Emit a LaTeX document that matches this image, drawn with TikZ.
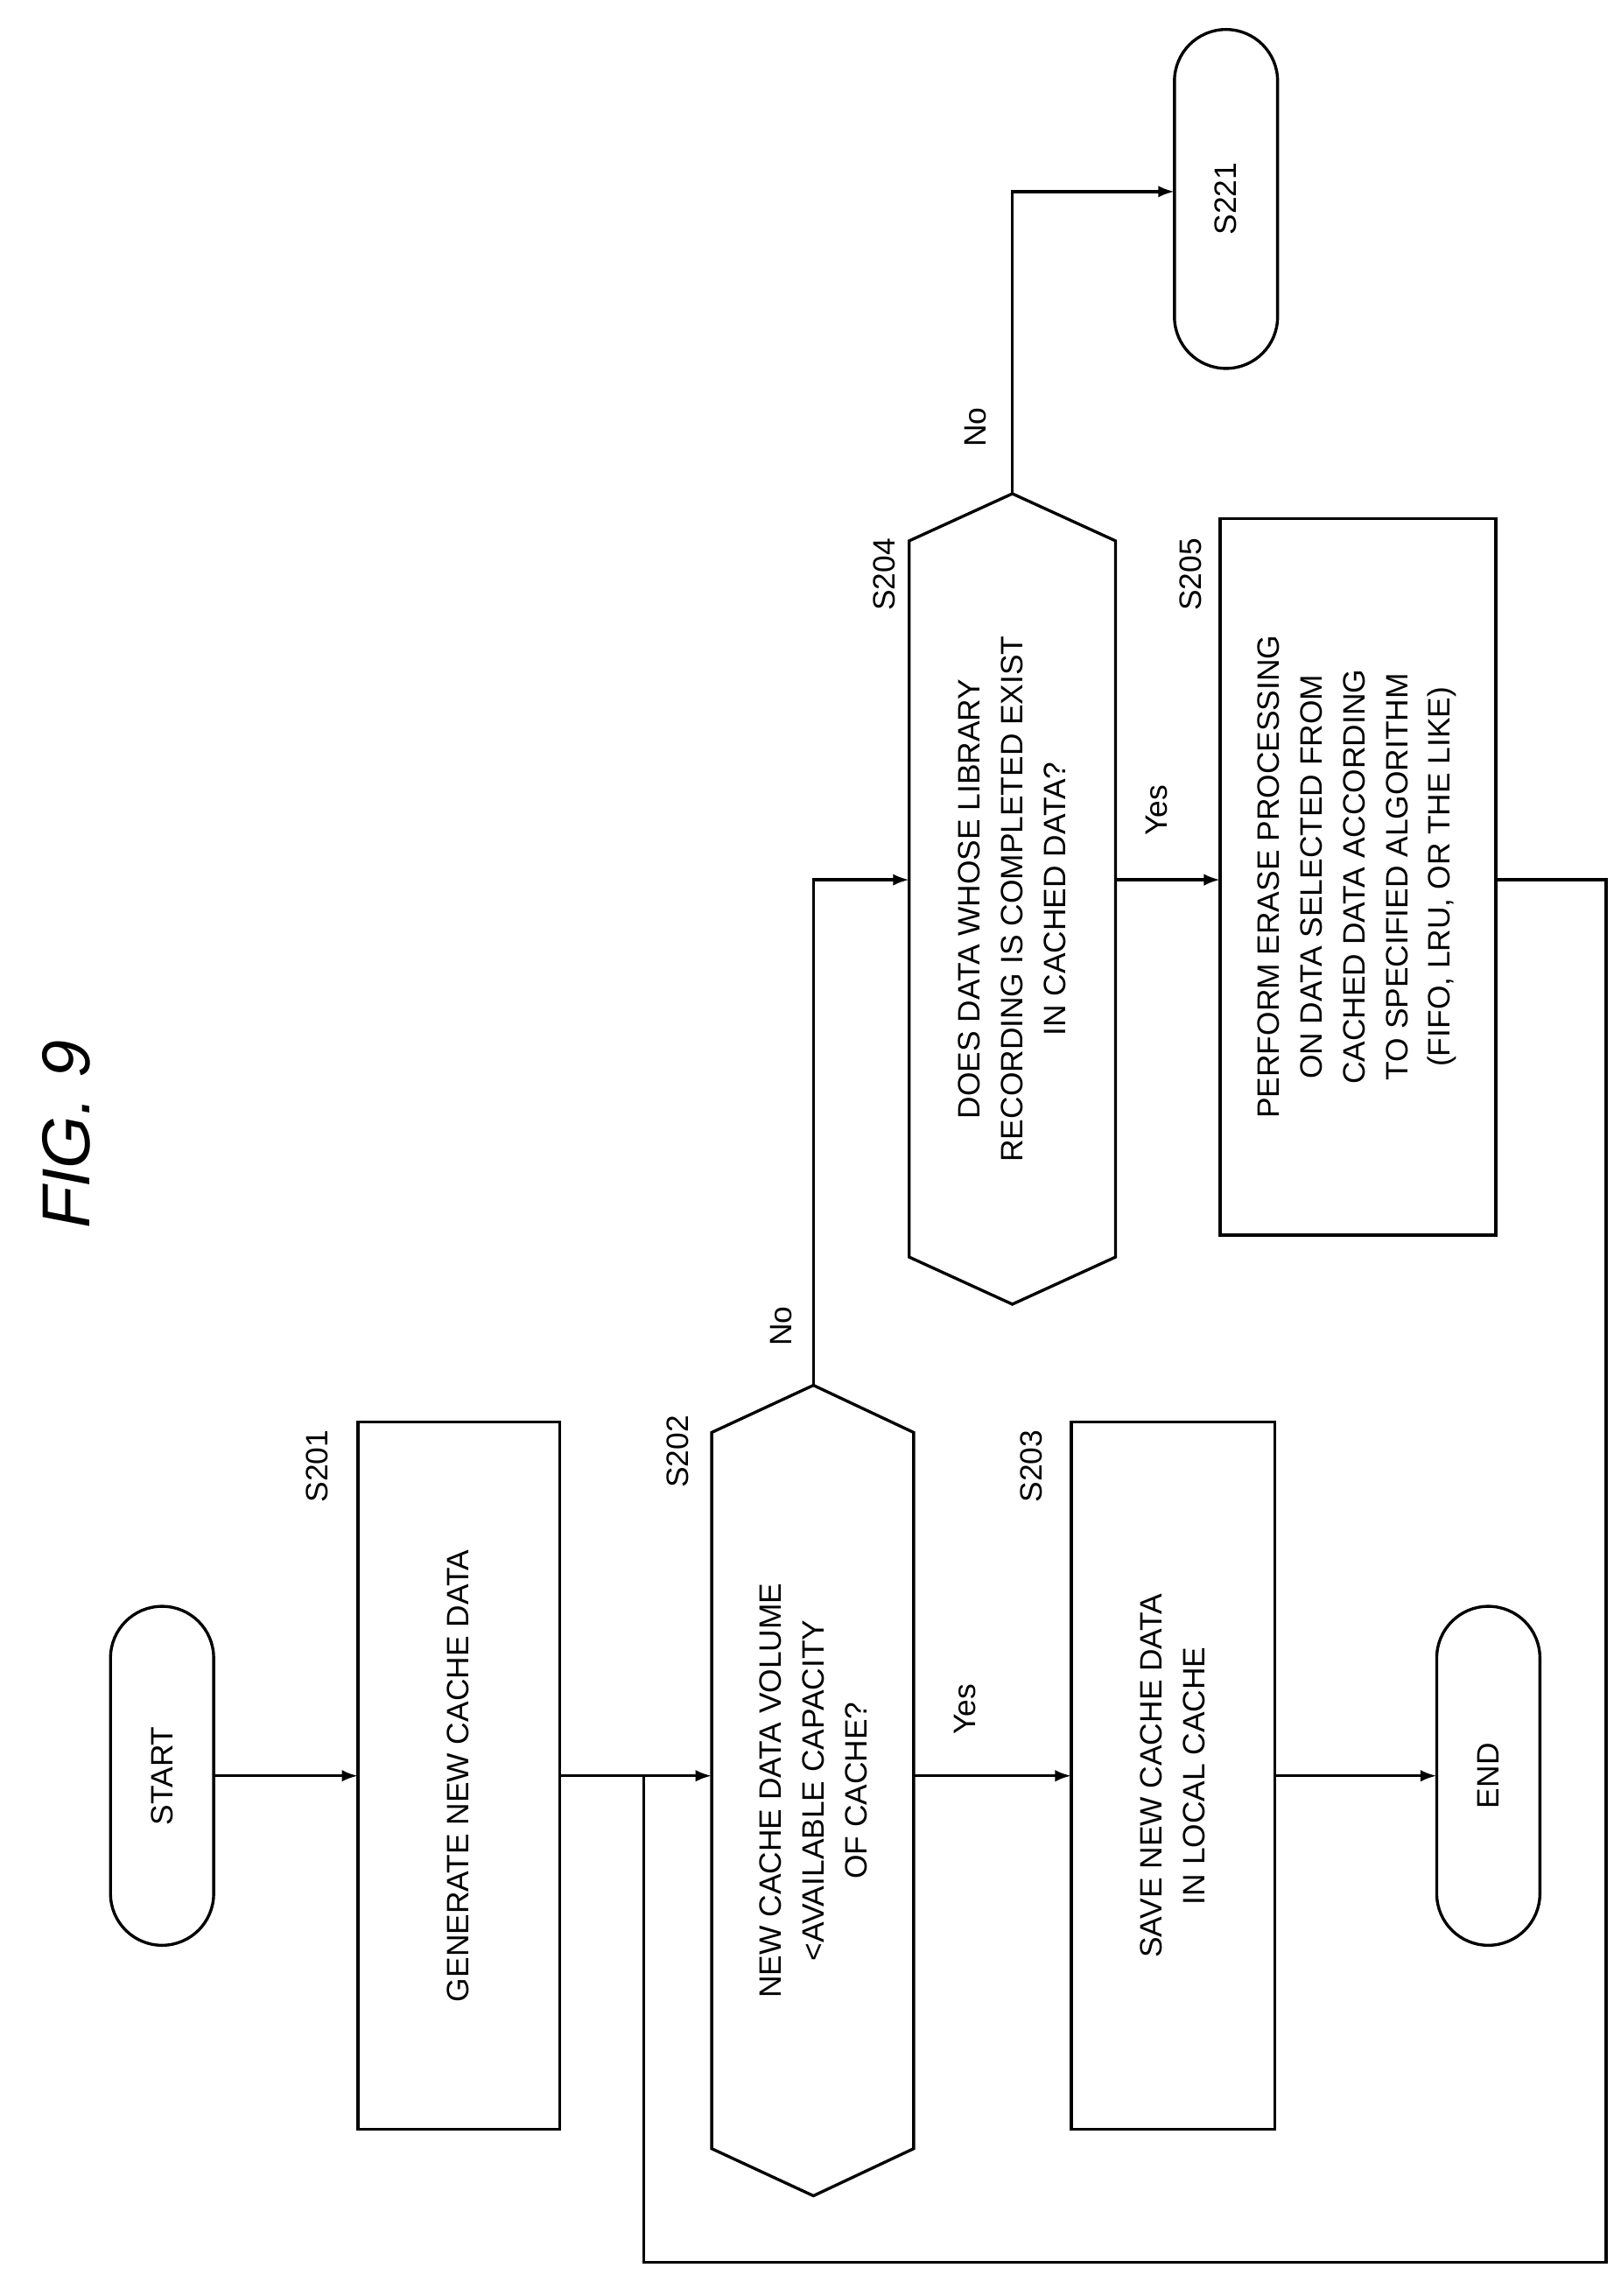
\documentclass[tikz,border=0pt]{standalone}
\usepackage{fontspec}
\setmainfont{Liberation Sans}
\usetikzlibrary{arrows.meta}
\begin{document}
\begin{tikzpicture}[x=1pt,y=-1pt,line width=2pt,
  box/.style={draw,line width=2pt},
  txt/.style={rotate=90,align=center,font=\fontsize{21}{29}\selectfont},
  lab/.style={rotate=90,font=\fontsize{21}{25}\selectfont},
  arr/.style={-{Latex[length=11pt,width=8pt]},line width=2pt}]
\useasboundingbox (0,0) rectangle (1100,1558);
\node[rotate=90,font=\fontsize{46}{50}\selectfont\itshape] (title) at (45,770) {FIG. 9};
% terminals
\draw[box,rounded corners=35] (75,1090) rectangle (145,1320);
\node[txt] (start) at (110,1205) {START};
\draw[box,rounded corners=35] (975,1090) rectangle (1045,1320);
\node[txt] (end) at (1010,1205) {END};
\draw[box,rounded corners=35] (797,20) rectangle (867,250);
\node[txt] (s221) at (832,135) {S221};
% rects
\draw[box] (243,965) rectangle (380,1445);
\node[txt] (s201) at (311,1205) {GENERATE NEW CACHE DATA};
\node[lab] at (215,995) {S201};
\draw[box] (727,965) rectangle (865,1445);
\node[txt] (s203) at (796,1205) {SAVE NEW CACHE DATA\\IN LOCAL CACHE};
\node[lab] at (700,995) {S203};
\draw[box] (828,352) rectangle (1015,838);
\node[txt] (s205) at (921,595) {PERFORM ERASE PROCESSING\\ON DATA SELECTED FROM\\CACHED DATA ACCORDING\\TO SPECIFIED ALGORITHM\\(FIFO, LRU, OR THE LIKE)};
\node[lab] at (808,390) {S205};
% hexagons
\draw[box] (552,940) -- (620,972) -- (620,1458) -- (552,1490) -- (483,1458) -- (483,972) -- cycle;
\node[txt] (s202) at (552,1215) {NEW CACHE DATA VOLUME\\<AVAILABLE CAPACITY\\OF CACHE?};
\node[lab] at (460,985) {S202};
\draw[box] (687,335) -- (757,367) -- (757,853) -- (687,885) -- (617,853) -- (617,367) -- cycle;
\node[txt] (s204) at (687,610) {DOES DATA WHOSE LIBRARY\\RECORDING IS COMPLETED EXIST\\IN CACHED DATA?};
\node[lab] at (600,390) {S204};
% connectors
\coordinate (j) at (437,1205);
\draw[arr] (145,1205) -- (243,1205);
\draw[arr] (380,1205) -- (483,1205);
\draw[arr] (620,1205) -- (727,1205);
\node[lab] at (655,1160) {Yes};
\draw[arr] (865,1205) -- (975,1205);
\draw[arr] (552,940) -- (552,597) -- (617,597);
\node[lab] at (530,900) {No};
\draw[arr] (757,597) -- (828,597);
\node[lab] at (785,550) {Yes};
\draw[arr] (687,335) -- (687,130) -- (797,130);
\node[lab] at (662,290) {No};
\draw (1015,597) -- (1090,597) -- (1090,1535) -- (437,1535) -- (j);
\end{tikzpicture}
\end{document}
